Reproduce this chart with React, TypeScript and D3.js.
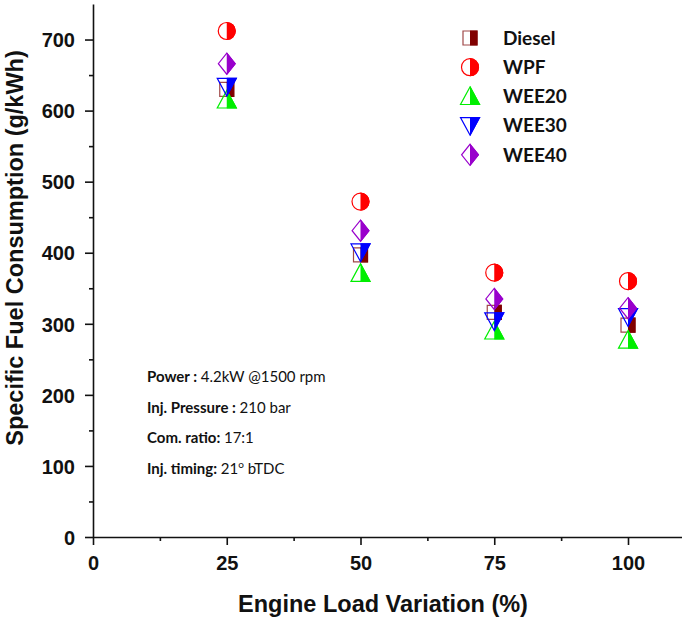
import * as d3 from 'd3';
import { useEffect, useRef } from 'react';

const LOADS = [25, 50, 75, 100];
const SERIES = ['Diesel', 'WPF', 'WEE20', 'WEE30', 'WEE40'];
const DIESEL = [630, 397, 316, 298];
const WPF = [712, 472, 372, 360];
const WEE20 = [615, 371, 290, 277];
const WEE30 = [634, 401, 304, 310];
const WEE40 = [666, 431, 335, 322];
const VALUES = [DIESEL, WPF, WEE20, WEE30, WEE40];
const X_TICKS = [0, 25, 50, 75, 100];
const Y_TICKS = [0, 100, 200, 300, 400, 500, 600, 700];

const STYLE = [
  { shape: 'square', fill: '#800000', stroke: '#a04848', size: 14 },
  { shape: 'circle', fill: '#ff0000', stroke: '#ff0000', size: 17 },
  { shape: 'up', fill: '#00ee00', stroke: '#00ee00', size: 19 },
  { shape: 'down', fill: '#0000ff', stroke: '#0000ff', size: 19 },
  { shape: 'diamond', fill: '#9900cc', stroke: '#9900cc', size: 21 }
];

const NOTES = [
  { bold: 'Power  : ', rest: '4.2kW @1500 rpm' },
  { bold: 'Inj. Pressure : ', rest: '210 bar' },
  { bold: 'Com. ratio: ', rest: '17:1' },
  { bold: 'Inj. timing: ', rest: '21', sup: 'o', tail: ' bTDC' }
];

const AXIS_FONT = '"Liberation Sans", Arial, sans-serif';
const LABEL_FONT = 'Lato, "Open Sans", sans-serif';

function shapePath(shape: string, s: number): string {
  const h = s / 2;
  if (shape === 'square') { return `M${-h},${-h}H${h}V${h}H${-h}Z`; }
  if (shape === 'circle') { return `M${-h},0A${h},${h} 0 1,0 ${h},0A${h},${h} 0 1,0 ${-h},0Z`; }
  if (shape === 'up') { return `M0,${-h}L${h},${h * 0.85}L${-h},${h * 0.85}Z`; }
  if (shape === 'down') { return `M0,${h}L${h},${-h * 0.85}L${-h},${-h * 0.85}Z`; }
  return `M0,${-h}L${h * 0.8},0L0,${h}L${-h * 0.8},0Z`;
}

function App() {
  const svgRef = useRef<SVGSVGElement>(null);

  useEffect(() => {
    if (!svgRef.current) { return; }
    const svg = d3.select(svgRef.current);
    svg.selectAll('*').remove();

    const x = d3.scaleLinear().domain([0, 110]).range([93, 681.5]);
    const y = d3.scaleLinear().domain([0, 750]).range([537, 4]);

    const defs = svg.append('defs');
    defs.append('clipPath').attr('id', 'rightHalf')
      .append('rect').attr('x', 0).attr('y', -20).attr('width', 20).attr('height', 40);

    // axes
    const xAxis = svg.append('g').attr('transform', `translate(0,${y(0)})`)
      .call(d3.axisBottom(x).tickValues(X_TICKS).tickSize(8).tickSizeOuter(0).tickPadding(11));
    svg.append('g').attr('transform', `translate(0,${y(0)})`)
      .call(d3.axisBottom(x).tickValues(d3.range(12.5, 110, 25)).tickSize(4).tickFormat(() => '').tickSizeOuter(0))
      .select('.domain').remove();
    const yAxis = svg.append('g').attr('transform', `translate(${x(0)},0)`)
      .call(d3.axisLeft(y).tickValues(Y_TICKS).tickSize(8).tickSizeOuter(0).tickPadding(10));
    svg.append('g').attr('transform', `translate(${x(0)},0)`)
      .call(d3.axisLeft(y).tickValues(d3.range(50, 750, 100)).tickSize(4).tickFormat(() => '').tickSizeOuter(0))
      .select('.domain').remove();

    svg.selectAll('.domain, .tick line').attr('stroke', '#111').attr('stroke-width', 1.6);
    [xAxis, yAxis].forEach(a => a.selectAll('text')
      .attr('font-family', AXIS_FONT)
      .attr('font-weight', 'bold').attr('font-size', 20).attr('fill', '#111'));
    yAxis.selectAll('text').attr('dy', '0.36em');

    svg.append('text')
      .attr('x', 383).attr('y', 612).attr('text-anchor', 'middle')
      .attr('font-family', AXIS_FONT)
      .attr('font-weight', 'bold').attr('font-size', 23.5).attr('fill', '#111')
      .text('Engine Load Variation (%)');
    svg.append('text')
      .attr('transform', `translate(23,248) rotate(-90)`).attr('text-anchor', 'middle')
      .attr('font-family', AXIS_FONT)
      .attr('font-weight', 'bold').attr('font-size', 23.5).attr('fill', '#111')
      .text('Specific Fuel Consumption (g/kWh)');

    const drawMarker = (g: d3.Selection<SVGGElement, unknown, null, undefined>, idx: number) => {
      const st = STYLE[idx];
      const d = shapePath(st.shape, st.size);
      g.append('path').attr('d', d).attr('fill', '#fff').attr('fill-opacity', 0)
        .attr('stroke', st.stroke).attr('stroke-width', 1.2);
      g.append('path').attr('d', d).attr('fill', st.fill)
        .attr('stroke', st.fill).attr('stroke-width', 1.2)
        .attr('clip-path', 'url(#rightHalf)');
    };

    // points (drawn in this order so overlap looks like the original)
    const order = [0, 2, 3, 4, 1];
    order.forEach(idx => {
      VALUES[idx].forEach((v, i) => {
        const g = svg.append('g').attr('transform', `translate(${x(LOADS[i])},${y(v)})`);
        drawMarker(g, idx);
      });
    });

    // legend
    SERIES.forEach((name, idx) => {
      const ly = 38 + idx * 29.2;
      const g = svg.append('g').attr('transform', `translate(470,${ly})`);
      drawMarker(g, idx);
      svg.append('text').attr('x', 503).attr('y', ly).attr('dy', '0.36em')
        .attr('font-family', LABEL_FONT).attr('font-weight', 'bold')
        .attr('font-size', 19).attr('fill', '#111').text(name);
    });

    // annotation
    NOTES.forEach((n, i) => {
      const t = svg.append('text').attr('x', 147).attr('y', 382 + i * 30.7)
        .attr('font-family', LABEL_FONT).attr('font-size', 15).attr('fill', '#111');
      t.append('tspan').attr('font-weight', 'bold').text(n.bold);
      t.append('tspan').text(n.rest);
      if (n.sup) {
        t.append('tspan').attr('font-size', 10).attr('dy', -6).text(n.sup);
        t.append('tspan').attr('dy', 6).text(n.tail || '');
      }
    });
  }, []);

  return (
    <div style={{ position: 'fixed', left: 0, top: 0, background: '#fff' }}>
      <svg ref={svgRef} width={685} height={617} style={{ display: 'block', background: '#fff' }} />
    </div>
  );
}

export default App;
